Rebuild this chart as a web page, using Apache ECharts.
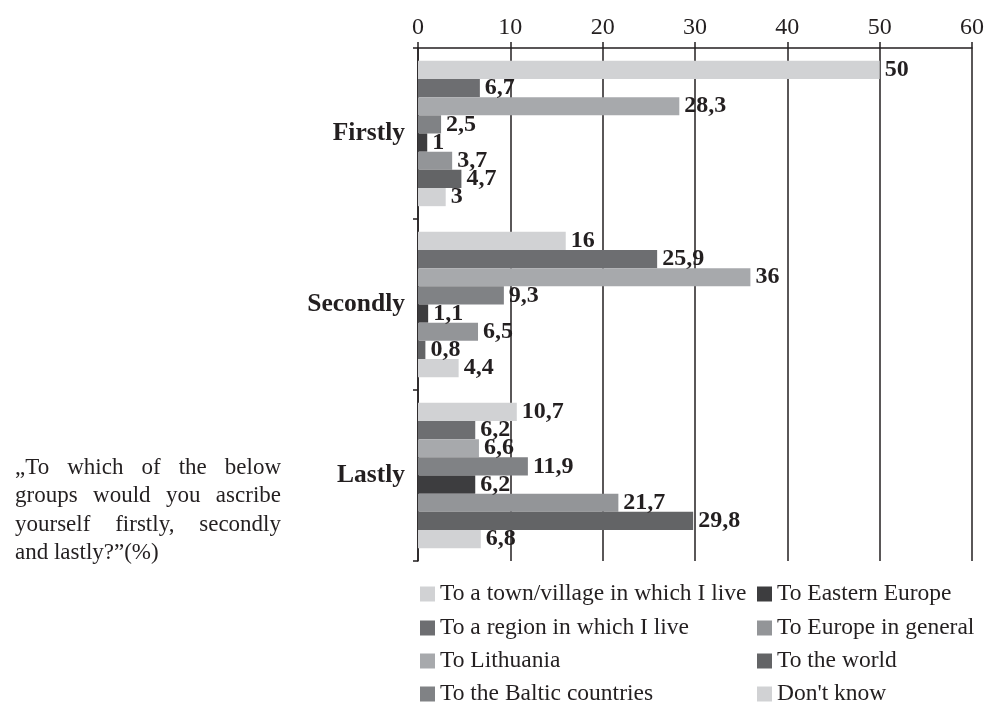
<!DOCTYPE html>
<html>
<head>
<meta charset="utf-8">
<script src="https://cdn.jsdelivr.net/npm/echarts@6/dist/echarts.min.js"></script>
<style>
  html, body { margin: 0; padding: 0; background: #fff; }
  #main { width: 987px; height: 704px; }
</style>
</head>
<body>
<div id="main"></div>
<script>
const categories = ['Firstly', 'Secondly', 'Lastly']
const seriesNames = [
  'To a town/village in which I live',
  'To a region in which I live',
  'To Lithuania',
  'To the Baltic countries',
  'To Eastern Europe',
  'To Europe in general',
  'To the world',
  "Don't know"
]
const town = [50, 16, 10.7]
const region = [6.7, 25.9, 6.2]
const lithuania = [28.3, 36, 6.6]
const baltic = [2.5, 9.3, 11.9]
const easternEurope = [1, 1.1, 6.2]
const europeGeneral = [3.7, 6.5, 21.7]
const world = [4.7, 0.8, 29.8]
const dontKnow = [3, 4.4, 6.8]
const xTicks = [0, 10, 20, 30, 40, 50, 60]

const values = [town, region, lithuania, baltic, easternEurope, europeGeneral, world, dontKnow]
const colors = ['#d1d2d4', '#6d6e71', '#a7a9ac', '#808285', '#3d3d3f', '#939598', '#636466', '#d1d2d4']

const serif = '"Liberation Serif", "DejaVu Serif", serif'
const ink = '#231f20'

const chart = echarts.init(document.getElementById('main'))

// justified question text, laid out word by word
const questionLines = [
  { words: ['\u201eTo', 'which', 'of', 'the', 'below'], justify: true },
  { words: ['groups', 'would', 'you', 'ascribe'], justify: true },
  { words: ['yourself', 'firstly,', 'secondly'], justify: true },
  { words: ['and', 'lastly?\u201d(%)'], justify: false }
]
const qFont = '23px ' + serif
const measureCtx = document.createElement('canvas').getContext('2d')
measureCtx.font = qFont
const textLeft = 15
const textRight = 281
const textTop = 468
const lineStep = 28.5
const questionGraphics = []
questionLines.forEach((line, i) => {
  const widths = line.words.map(w => measureCtx.measureText(w).width)
  const total = widths.reduce((a, b) => a + b, 0)
  const gap = line.justify
    ? (textRight - textLeft - total) / (line.words.length - 1)
    : measureCtx.measureText(' ').width
  let x = textLeft
  line.words.forEach((w, j) => {
    questionGraphics.push({
      type: 'text',
      left: x,
      top: textTop + i * lineStep - 12,
      style: { text: w, font: qFont, fill: ink }
    })
    x += widths[j] + gap
  })
})

// legend: two columns, four rows
const legendRows = [594, 628, 661, 694]
const legendCols = [420, 757]
const legends = seriesNames.map((name, i) => ({
  data: [name],
  left: legendCols[Math.floor(i / 4)],
  top: legendRows[i % 4] - 12,
  padding: 0,
  itemWidth: 15,
  itemHeight: 15,
  itemGap: 0,
  icon: 'rect',
  textStyle: { color: ink, fontFamily: serif, fontSize: 23.5, lineHeight: 24 }
}))

const option = {
  backgroundColor: '#fff',
  animation: false,
  grid: { left: 418, right: 15, top: 48, bottom: 143 },
  xAxis: {
    type: 'value',
    position: 'top',
    min: 0,
    max: 60,
    interval: 10,
    axisLine: { show: true, lineStyle: { color: ink, width: 1.5 } },
    axisTick: { show: true, inside: false, length: 6, lineStyle: { color: ink, width: 1.5 } },
    axisLabel: {
      color: ink,
      fontFamily: serif,
      fontSize: 24,
      margin: 8,
      formatter: v => (xTicks.includes(v) ? String(v) : '')
    },
    splitLine: { show: true, lineStyle: { color: ink, width: 1.5 } }
  },
  yAxis: {
    type: 'category',
    inverse: true,
    data: categories,
    axisLine: { show: true, lineStyle: { color: ink, width: 1.5 } },
    axisTick: { show: true, inside: false, length: 5, lineStyle: { color: ink, width: 1.5 } },
    axisLabel: {
      color: ink,
      fontFamily: serif,
      fontWeight: 'bold',
      fontSize: 25.5,
      margin: 13
    }
  },
  legend: legends,
  graphic: questionGraphics,
  series: seriesNames.map((name, i) => ({
    name: name,
    type: 'bar',
    data: values[i],
    barGap: '0%',
    barCategoryGap: '15%',
    itemStyle: { color: colors[i] },
    label: {
      show: true,
      position: 'right',
      distance: 5,
      color: ink,
      fontFamily: serif,
      fontWeight: 'bold',
      fontSize: 24,
      formatter: p => String(p.value).replace('.', ',')
    }
  }))
}

chart.setOption(option)
</script>
</body>
</html>
